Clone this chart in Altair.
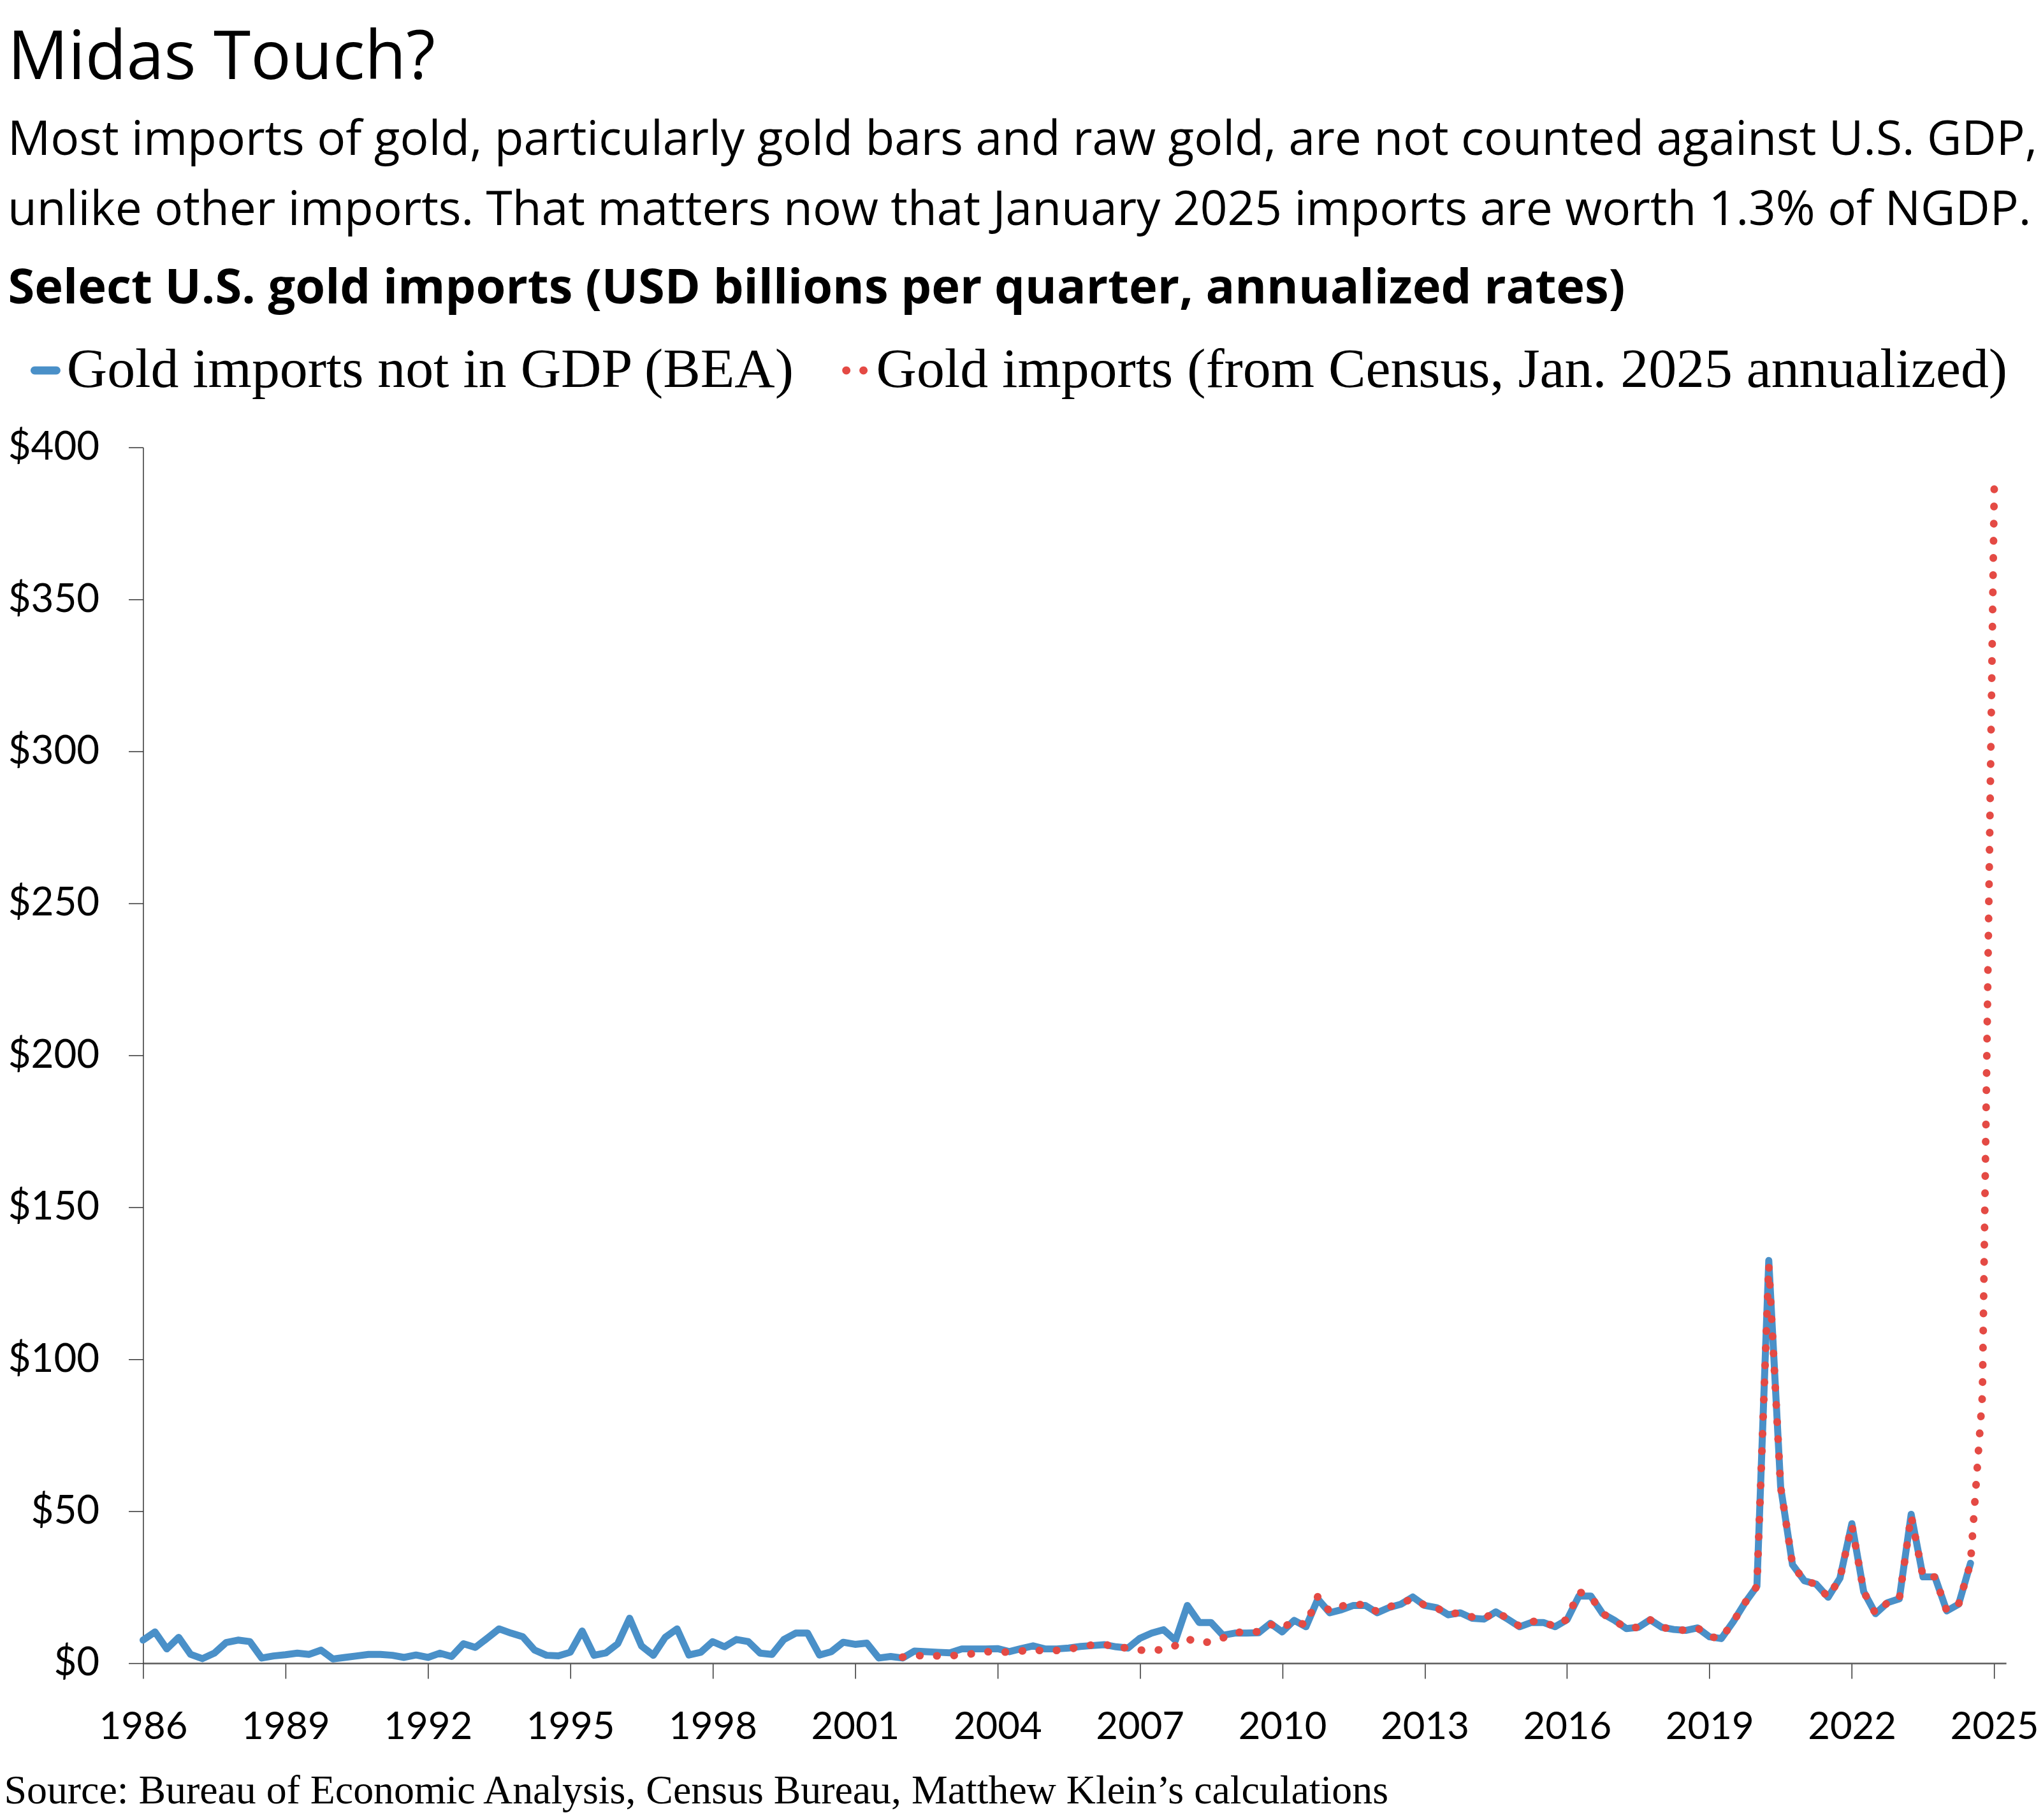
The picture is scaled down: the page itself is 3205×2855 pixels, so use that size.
import altair as alt
import pandas as pd

# ---------------- data ----------------
bea_start = 1986.0          # 1986 Q1, quarterly steps
bea_values = [
    7.6, 10.3, 4.7, 8.5, 2.9, 1.5, 3.3, 6.8, 7.6, 7.1,
    1.7, 2.4, 2.8, 3.3, 2.9, 4.3, 1.4, 1.9, 2.4, 2.9,
    2.9, 2.6, 1.9, 2.7, 1.9, 3.3, 2.2, 6.4, 5.2, 8.2,
    11.3, 9.9, 8.7, 4.3, 2.6, 2.4, 3.6, 10.6, 2.6, 3.4,
    6.4, 14.8, 5.7, 2.6, 8.5, 11.3, 2.7, 3.6, 7.1, 5.4,
    7.8, 7.1, 3.3, 2.9, 7.8, 9.9, 9.9, 2.7, 3.8, 6.9,
    6.2, 6.6, 1.7, 2.2, 1.7, 4.0, 3.8, 3.6, 3.4, 4.7,
    4.7, 4.7, 4.8, 3.8, 4.8, 5.7, 4.7, 4.7, 5.0, 5.5,
    5.8, 6.1, 5.4, 5.0, 8.2, 9.9, 11.0, 7.5, 19.0, 13.4,
    13.4, 9.2, 9.9, 9.9, 10.0, 13.1, 10.3, 14.1, 12.0, 21.1,
    16.6, 17.6, 19.0, 19.0, 16.6, 18.3, 19.4, 21.8, 19.0, 18.3,
    15.9, 16.6, 14.8, 14.5, 16.9, 14.5, 12.0, 13.4, 13.4, 12.0,
    14.3, 22.1, 22.1, 16.3, 14.1, 11.4, 11.8, 14.3, 11.8, 11.1,
    10.8, 11.6, 8.7, 8.1, 13.6, 19.9, 25.3, 132.5, 58.0, 32.4,
    27.1, 26.0, 21.7, 28.0, 45.9, 23.5, 16.3, 19.9, 21.2, 49.0,
    28.4, 28.4, 17.2, 19.4, 32.9,
]

census_start = 2002.0       # 2002 Q1, quarterly steps, last point Jan. 2025
census_values = [
    2.0, 2.4, 2.6, 2.4, 2.5, 2.6, 3.2, 3.8, 3.6, 3.7,
    4.0, 4.4, 4.0, 4.2, 4.5, 5.5, 6.0, 6.2, 5.3, 5.0,
    4.3, 4.2, 4.5, 5.8, 8.0, 6.8, 7.0, 8.3, 10.2, 10.1,
    10.4, 12.8, 11.5, 14.0, 12.5, 22.0, 17.0, 18.8, 19.3, 19.3,
    16.9, 18.5, 19.8, 21.2, 19.1, 18.2, 16.2, 16.6, 15.2, 14.8,
    16.8, 14.8, 12.1, 13.8, 13.6, 12.0, 14.5, 23.5, 22.0, 16.3,
    14.0, 11.5, 11.8, 14.3, 11.8, 11.1, 10.8, 11.6, 8.7, 8.2,
    13.6, 19.9, 25.3, 131.0, 58.0, 32.4, 27.1, 26.0, 21.7, 28.0,
    45.5, 23.5, 16.3, 19.9, 21.2, 48.5, 28.4, 28.4, 17.2, 19.4,
    32.9, 88.0, 387.0,
]

series_names = [
    "Gold imports not in GDP (BEA)",
    "Gold imports (from Census, Jan. 2025 annualized)",
]
series_colors = ["#4A90C8", "#E44A44"]

x_ticks = [1986, 1989, 1992, 1995, 1998, 2001, 2004, 2007, 2010, 2013, 2016, 2019, 2022, 2025]
y_ticks = [0, 50, 100, 150, 200, 250, 300, 350, 400]

title_text = "Midas Touch?"
subtitle_lines = [
    "Most imports of gold, particularly gold bars and raw gold, are not counted against U.S. GDP,",
    "unlike other imports. That matters now that January 2025 imports are worth 1.3% of NGDP.",
]
chart_heading = "Select U.S. gold imports (USD billions per quarter, annualized rates)"
source_text = "Source: Bureau of Economic Analysis, Census Bureau, Matthew Klein\u2019s calculations"

# ---------------- table ----------------
rows = []
for i, v in enumerate(bea_values):
    rows.append({"t": bea_start + i * 0.25, "value": v, "series": series_names[0]})
for i, v in enumerate(census_values):
    rows.append({"t": census_start + i * 0.25, "value": v, "series": series_names[1]})
df = pd.DataFrame(rows)

# legend symbol paths (unit square -1..1, shifted right to sit close to the labels)
bar_path = ("M-0.27,-0.27 L1.15,-0.27 A0.27,0.27 0 0 1 1.15,0.27 "
            "L-0.27,0.27 A0.27,0.27 0 0 1 -0.27,-0.27 Z")
dots_path = ("M-0.395,0 A0.27,0.27 0 1 0 0.145,0 A0.27,0.27 0 1 0 -0.395,0 Z "
             "M0.73,0 A0.27,0.27 0 1 0 1.27,0 A0.27,0.27 0 1 0 0.73,0 Z")

x_enc = alt.X(
    "t:Q",
    scale=alt.Scale(domain=[1986, 2025.25], nice=False, zero=False),
    axis=alt.Axis(
        values=x_ticks, format="d", grid=False,
        tickSize=24, tickColor="#333333", tickWidth=1.5,
        domainColor="#5a5a5a", domainWidth=2.5,
        labelFont="Lato", labelFontSize=60, labelColor="black",
        labelPadding=48, labelFlush=False, labelOverlap=False,
        title=source_text, titleFont="Liberation Serif", titleFontSize=64,
        titleFontWeight="normal", titleColor="black",
        titleAnchor="start", titleAlign="left", titleBaseline="alphabetic",
        titleX=-219, titleY=220,
    ),
)
y_enc = alt.Y(
    "value:Q",
    scale=alt.Scale(domain=[0, 400], nice=False),
    axis=alt.Axis(
        values=y_ticks, labelExpr="'$' + datum.value", grid=False,
        tickSize=23, tickColor="#333333", tickWidth=1.5,
        domainColor="#333333", domainWidth=1.5,
        labelFont="Lato", labelFontSize=62, labelColor="black",
        labelPadding=46, labelFlush=False, labelOverlap=False,
        title=chart_heading, titleFont="Open Sans", titleFontSize=76,
        titleFontWeight="bold", titleColor="black", titleAngle=0,
        titleAnchor="start", titleAlign="left", titleBaseline="alphabetic",
        titleX=-213, titleY=-227,
    ),
)

base = alt.Chart(df)

blue = base.transform_filter(alt.datum.series == series_names[0]).mark_line(
    color=series_colors[0], strokeWidth=11, strokeJoin="round", strokeCap="round"
).encode(x=x_enc, y=y_enc)

red = base.transform_filter(alt.datum.series == series_names[1]).mark_line(
    color=series_colors[1], strokeWidth=12, strokeCap="round", strokeJoin="round",
    strokeDash=[0.5, 26.5]
).encode(x=x_enc, y=y_enc)

legend_cfg = dict(
    orient="none", legendX=-208, legendY=-165, direction="horizontal",
    symbolSize=2304, symbolStrokeWidth=0,
    labelFont="Liberation Serif", labelFontSize=88, labelColor="black",
    labelOffset=0, columnPadding=38, labelLimit=2000, padding=0, title=None,
)

legend_layer = base.transform_filter("false").mark_point(filled=True, opacity=1).encode(
    color=alt.Color("series:N", scale=alt.Scale(domain=series_names, range=series_colors),
                    legend=alt.Legend(**legend_cfg)),
    shape=alt.Shape("series:N", scale=alt.Scale(domain=series_names, range=[bar_path, dots_path]),
                    legend=alt.Legend(**legend_cfg)),
)

chart = alt.layer(blue, red, legend_layer).properties(
    width=2930,
    height=1912,
    autosize=alt.AutoSizeParams(type="none"),
    padding={"left": 217, "top": 692, "right": 50, "bottom": 235},
    title=alt.TitleParams(
        text=title_text,
        subtitle=subtitle_lines,
        anchor="start",
        frame="group",
        dx=-213,
        font="Open Sans", fontSize=106, fontWeight="normal", color="black",
        subtitleFont="Open Sans", subtitleFontSize=75, subtitleColor="black",
        subtitleLineHeight=110, subtitlePadding=38,
        offset=46,
    ),
).configure_view(fill="#F6F5F1", stroke="transparent")

chart.save("out.html", embed_options={"renderer": "svg", "actions": False})
